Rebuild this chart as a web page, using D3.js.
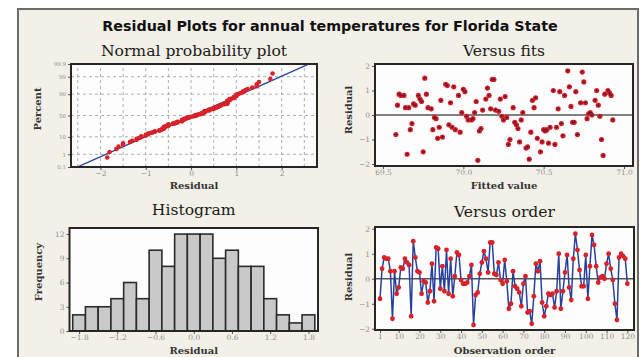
<!DOCTYPE html>
<html>
<head>
<meta charset="utf-8">
<script src="https://cdn.jsdelivr.net/npm/d3@7"></script>
<style>
  body { margin: 0; background: #fff; }
  svg { display: block; }
</style>
</head>
<body>
<svg id="chart"></svg>
<script>
const residuals = [
  -0.80, 0.40, 0.85, 0.80, 0.80, 0.30, -1.60, 0.30, -0.60, -0.35,
  0.45, 0.40, 0.80, 0.65, 0.55, -1.50, 1.50, 0.85, 0.30, 0.25,
  -0.60, -0.10, -0.15, -0.95, -0.50, 0.60, -0.90, 1.25, 1.20, -0.40,
  0.50, -0.50, 1.15, -0.60, 0.80, -0.70, 0.10, 1.05, 0.95, -0.05,
  -0.20, -0.20, -0.15, 0.10, 0.55, -1.85, -0.65, -0.55, 0.20, 0.65,
  1.10, 0.80, 0.25, 1.45, 1.45, 0.20, 0.15, 0.65, -0.05, -0.20,
  0.75, -0.10, -1.20, -1.00, 0.30, -0.30, -0.40, -0.55, -1.10, -0.20,
  0.10, -1.35, -1.30, -1.80, -0.70, 0.60, 0.30, 0.70, -0.95, -1.50,
  -1.10, -0.60, -0.65, -0.60, -1.15, -0.50, 1.00, -1.20, -0.50, 0.25,
  0.95, -0.35, -0.85, 0.80, 1.80, 1.15, 0.35, -0.30, -0.30, 0.95,
  -0.80, 0.50, 1.75, 1.35, 0.50, -0.15, 0.05, 0.10, 0.00, 0.60,
  1.00, 0.40, -0.05, -1.00, -1.65, 0.85, 1.00, 0.90, 0.80, -0.20
];

const fittedValues = [
  69.58, 69.59, 69.60, 69.61, 69.63, 69.64, 69.65, 69.66, 69.67, 69.68,
  69.69, 69.70, 69.72, 69.73, 69.74, 69.75, 69.76, 69.77, 69.78, 69.80,
  69.81, 69.82, 69.83, 69.84, 69.85, 69.86, 69.87, 69.89, 69.90, 69.91,
  69.92, 69.93, 69.94, 69.95, 69.97, 69.98, 69.99, 70.00, 70.01, 70.02,
  70.03, 70.05, 70.06, 70.07, 70.08, 70.09, 70.10, 70.11, 70.12, 70.14,
  70.15, 70.16, 70.17, 70.18, 70.19, 70.20, 70.22, 70.23, 70.24, 70.25,
  70.26, 70.27, 70.28, 70.29, 70.31, 70.32, 70.33, 70.34, 70.35, 70.36,
  70.37, 70.39, 70.40, 70.41, 70.42, 70.43, 70.44, 70.45, 70.46, 70.48,
  70.49, 70.50, 70.51, 70.52, 70.53, 70.54, 70.56, 70.57, 70.58, 70.59,
  70.60, 70.61, 70.62, 70.63, 70.65, 70.66, 70.67, 70.68, 70.69, 70.70,
  70.71, 70.73, 70.74, 70.75, 70.76, 70.77, 70.78, 70.79, 70.80, 70.82,
  70.83, 70.84, 70.85, 70.86, 70.87, 70.88, 70.90, 70.91, 70.92, 70.93
];

const histCenters = [-1.8, -1.6, -1.4, -1.2, -1.0, -0.8, -0.6, -0.4, -0.2, 0.0,
  0.2, 0.4, 0.6, 0.8, 1.0, 1.2, 1.4, 1.6, 1.8];
const histCounts = [2, 3, 3, 4, 6, 4, 10, 8, 12, 12, 12, 9, 10, 8, 8, 4, 2, 1, 2];

const percentTicks = [0.1, 1, 10, 50, 90, 99, 99.9];
const residualTicks = [-2, -1, 0, 1, 2];
const fitTicks = [69.5, 70.0, 70.5, 71.0];
const histXTicks = [-1.8, -1.2, -0.6, 0.0, 0.6, 1.2, 1.8];
const histYTicks = [0, 3, 6, 9, 12];
const orderTicks = [1, 10, 20, 30, 40, 50, 60, 70, 80, 90, 100, 110, 120];

const serif = "DejaVu Serif";
const red = "#d8222a";
const blue = "#27409e";

// inverse normal cdf (Acklam)
function qnorm(p) {
  const a = [-39.69683028665376, 220.9460984245205, -275.9285104469687, 138.3577518672690, -30.66479806614716, 2.506628277459239];
  const b = [-54.47609879822406, 161.5858368580409, -155.6989798598866, 66.80131188771972, -13.28068155288572];
  const c = [-0.007784894002430293, -0.3223964580411365, -2.400758277161838, -2.549732539343734, 4.374664141464968, 2.938163982698783];
  const d = [0.007784695709041462, 0.3224671290700398, 2.445134137142996, 3.754408661907416];
  const lo = 0.02425;
  if (p < lo) {
    const q = Math.sqrt(-2 * Math.log(p));
    return (((((c[0]*q+c[1])*q+c[2])*q+c[3])*q+c[4])*q+c[5]) / ((((d[0]*q+d[1])*q+d[2])*q+d[3])*q+1);
  }
  if (p > 1 - lo) {
    const q = Math.sqrt(-2 * Math.log(1 - p));
    return -(((((c[0]*q+c[1])*q+c[2])*q+c[3])*q+c[4])*q+c[5]) / ((((d[0]*q+d[1])*q+d[2])*q+d[3])*q+1);
  }
  const q = p - 0.5, r = q * q;
  return (((((a[0]*r+a[1])*r+a[2])*r+a[3])*r+a[4])*r+a[5])*q / (((((b[0]*r+b[1])*r+b[2])*r+b[3])*r+b[4])*r+1);
}

const svg = d3.select("#chart")
  .attr("width", 644)
  .attr("height", 357);

svg.append("rect")
  .attr("width", 644)
  .attr("height", 357)
  .attr("fill", "#fff");

svg.append("rect")
  .attr("x", 18)
  .attr("y", 9)
  .attr("width", 620)
  .attr("height", 360)
  .attr("fill", "#f3f0e8")
  .attr("stroke", "#6b6b6b")
  .attr("stroke-width", 2);

svg.append("text")
  .attr("x", 330)
  .attr("y", 31)
  .attr("text-anchor", "middle")
  .attr("font-family", "DejaVu Sans")
  .attr("font-weight", "bold")
  .attr("font-size", 14.3)
  .attr("fill", "#111")
  .text("Residual Plots for annual temperatures for Florida State");

function styleAxis(g) {
  g.select(".domain").remove();
  g.selectAll(".tick line").attr("stroke", "#555");
  g.selectAll(".tick text")
    .attr("fill", "#8f8f8f")
    .attr("font-family", serif)
    .attr("font-size", 7.5);
}

function panelText(x, y, title, titleY, xLabel, xLabelY, yLabel, yLabelX, yLabelY) {
  svg.append("text")
    .attr("x", (x[0] + x[1]) / 2)
    .attr("y", titleY)
    .attr("text-anchor", "middle")
    .attr("font-family", serif)
    .attr("font-size", 15.6)
    .attr("fill", "#1a1a1a")
    .text(title);
  svg.append("text")
    .attr("x", (x[0] + x[1]) / 2)
    .attr("y", xLabelY)
    .attr("text-anchor", "middle")
    .attr("font-family", serif)
    .attr("font-weight", "bold")
    .attr("font-size", 10)
    .attr("fill", "#333")
    .text(xLabel);
  svg.append("text")
    .attr("transform", `translate(${yLabelX}, ${yLabelY}) rotate(-90)`)
    .attr("text-anchor", "middle")
    .attr("font-family", serif)
    .attr("font-weight", "bold")
    .attr("font-size", 10)
    .attr("fill", "#333")
    .text(yLabel);
}

function plotArea(x, y, id) {
  svg.append("rect")
    .attr("x", x[0]).attr("y", y[1])
    .attr("width", x[1] - x[0]).attr("height", y[0] - y[1])
    .attr("fill", "#fdfdfd");
  svg.append("clipPath").attr("id", id)
    .append("rect")
    .attr("x", x[0]).attr("y", y[1])
    .attr("width", x[1] - x[0]).attr("height", y[0] - y[1]);
  return svg.append("g").attr("clip-path", `url(#${id})`);
}

function frame(x, y) {
  svg.append("rect")
    .attr("x", x[0]).attr("y", y[1])
    .attr("width", x[1] - x[0]).attr("height", y[0] - y[1])
    .attr("fill", "none")
    .attr("stroke", "#262626")
    .attr("stroke-width", 2);
}

// ---- Normal probability plot ----
{
  const xr = [71, 317], yr = [167, 64];
  const x = d3.scaleLinear().domain([-2.65, 2.78]).range(xr);
  const y = d3.scaleLinear().domain([qnorm(0.001), qnorm(0.999)]).range(yr);
  const g = plotArea(xr, yr, "clipProb");

  const gridX = d3.range(-2.5, 2.51, 0.5);
  g.selectAll(".gx").data(gridX).join("line")
    .attr("x1", d => x(d)).attr("x2", d => x(d))
    .attr("y1", yr[0]).attr("y2", yr[1])
    .attr("stroke", "#9a9a9a").attr("stroke-dasharray", "3,3").attr("stroke-width", 0.8);
  g.selectAll(".gy").data(percentTicks.slice(1, -1)).join("line")
    .attr("x1", xr[0]).attr("x2", xr[1])
    .attr("y1", d => y(qnorm(d / 100))).attr("y2", d => y(qnorm(d / 100)))
    .attr("stroke", "#9a9a9a").attr("stroke-dasharray", "3,3").attr("stroke-width", 0.8);

  const n = residuals.length;
  const sorted = residuals.slice().sort(d3.ascending);
  const pts = sorted.map((r, i) => ({ r, z: qnorm((i + 1 - 0.3) / (n + 0.4)) }));
  const mu = d3.mean(residuals), sd = d3.deviation(residuals);

  g.append("path")
    .datum([-3.3, 3.3])
    .attr("d", d3.line().x(z => x(mu + sd * z)).y(z => y(z)))
    .attr("stroke", blue).attr("stroke-width", 1.3).attr("fill", "none");

  g.selectAll("circle").data(pts).join("circle")
    .attr("cx", d => x(d.r)).attr("cy", d => y(d.z))
    .attr("r", 2.3).attr("fill", red);

  svg.append("g").attr("transform", `translate(0,${yr[0]})`)
    .call(d3.axisBottom(x).tickValues(residualTicks).tickSize(3).tickPadding(1).tickFormat(d3.format("d")))
    .call(styleAxis);
  svg.append("g").attr("transform", `translate(${xr[0]},0)`)
    .call(d3.axisLeft(y).tickValues(percentTicks.map(p => qnorm(p / 100))).tickSize(3).tickPadding(2)
      .tickFormat((d, i) => percentTicks[i]))
    .call(styleAxis)
    .call(a => a.selectAll(".tick text").attr("font-size", 5.5));

  frame(xr, yr);
  panelText(xr, yr, "Normal probability plot", 56, "Residual", 189, "Percent", 41, 109);
}

// ---- Versus fits ----
{
  const xr = [375, 633], yr = [166, 64];
  const x = d3.scaleLinear().domain([69.45, 71.056]).range(xr);
  const y = d3.scaleLinear().domain([-2.08, 2.08]).range(yr);
  const g = plotArea(xr, yr, "clipFits");

  g.append("line")
    .attr("x1", xr[0]).attr("x2", xr[1])
    .attr("y1", y(0)).attr("y2", y(0))
    .attr("stroke", "#555").attr("stroke-width", 1.5);

  const pts = residuals.map((r, i) => ({ r, f: fittedValues[i] }));
  g.selectAll("circle").data(pts).join("circle")
    .attr("cx", d => x(d.f)).attr("cy", d => y(d.r))
    .attr("r", 2.6).attr("fill", red);
  g.selectAll(".c").data(pts).join("path")
    .attr("transform", d => `translate(${x(d.f)},${y(d.r)})`)
    .attr("d", d3.symbol(d3.symbolCross, 5))
    .attr("fill", "#6a1830");

  svg.append("g").attr("transform", `translate(0,${yr[0]})`)
    .call(d3.axisBottom(x).tickValues(fitTicks).tickSize(3).tickPadding(1).tickFormat(d3.format(".1f")))
    .call(styleAxis);
  svg.append("g").attr("transform", `translate(${xr[0]},0)`)
    .call(d3.axisLeft(y).tickValues(residualTicks).tickSize(3).tickPadding(2).tickFormat(d3.format("d")))
    .call(styleAxis);

  frame(xr, yr);
  panelText(xr, yr, "Versus fits", 56, "Fitted value", 189, "Residual", 352, 110);
}

// ---- Histogram ----
{
  const xr = [69.5, 318], yr = [331, 228];
  const x = d3.scaleLinear().domain([-1.95, 1.95]).range(xr);
  const y = d3.scaleLinear().domain([0, 12.75]).range(yr);
  const g = plotArea(xr, yr, "clipHist");

  const bins = histCenters.map((c, i) => ({ c, n: histCounts[i] }));
  g.selectAll("rect").data(bins).join("rect")
    .attr("x", d => x(d.c - 0.1))
    .attr("y", d => y(d.n))
    .attr("width", d => x(d.c + 0.1) - x(d.c - 0.1))
    .attr("height", d => y(0) - y(d.n))
    .attr("fill", "#c9c9c9")
    .attr("stroke", "#2b2b2b")
    .attr("stroke-width", 1.6);

  svg.append("g").attr("transform", `translate(0,${yr[0]})`)
    .call(d3.axisBottom(x).tickValues(histXTicks).tickSize(3).tickPadding(1).tickFormat(d3.format(".1f")))
    .call(styleAxis);
  svg.append("g").attr("transform", `translate(${xr[0]},0)`)
    .call(d3.axisLeft(y).tickValues(histYTicks).tickSize(3).tickPadding(2).tickFormat(d3.format("d")))
    .call(styleAxis);

  frame(xr, yr);
  panelText(xr, yr, "Histogram", 215, "Residual", 354, "Frequency", 42, 272);
}

// ---- Versus order ----
{
  const xr = [375, 634], yr = [330, 227];
  const x = d3.scaleLinear().domain([-1.4, 123.2]).range(xr);
  const y = d3.scaleLinear().domain([-2.05, 2.07]).range(yr);
  const g = plotArea(xr, yr, "clipOrder");

  g.append("line")
    .attr("x1", xr[0]).attr("x2", xr[1])
    .attr("y1", y(0)).attr("y2", y(0))
    .attr("stroke", "#555").attr("stroke-width", 1.5);

  g.append("path")
    .datum(residuals)
    .attr("d", d3.line().x((d, i) => x(i + 1)).y(d => y(d)))
    .attr("stroke", blue).attr("stroke-width", 1.5).attr("fill", "none");

  g.selectAll("circle").data(residuals).join("circle")
    .attr("cx", (d, i) => x(i + 1)).attr("cy", d => y(d))
    .attr("r", 2.4).attr("fill", red);

  svg.append("g").attr("transform", `translate(0,${yr[0]})`)
    .call(d3.axisBottom(x).tickValues(orderTicks).tickSize(3).tickPadding(1).tickFormat(d3.format("d")))
    .call(styleAxis);
  svg.append("g").attr("transform", `translate(${xr[0]},0)`)
    .call(d3.axisLeft(y).tickValues(residualTicks).tickSize(3).tickPadding(2).tickFormat(d3.format("d")))
    .call(styleAxis);

  frame(xr, yr);
  panelText(xr, yr, "Versus order", 217, "Observation order", 354, "Residual", 352, 277);
}
</script>
</body>
</html>
